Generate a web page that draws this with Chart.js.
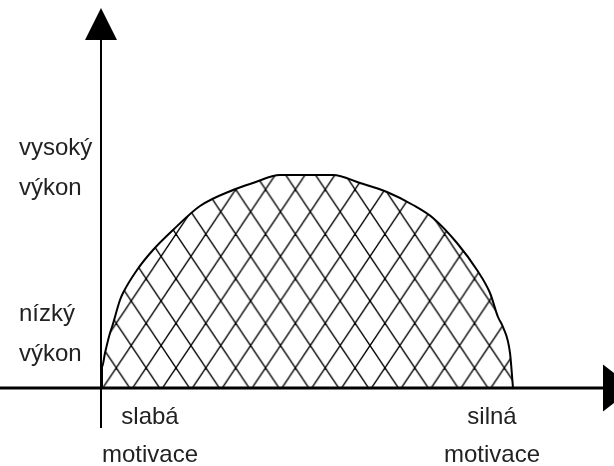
<!DOCTYPE html>
<html>
<head>
<meta charset="utf-8">
<script src="https://cdn.jsdelivr.net/npm/chart.js@4"></script>
<style>
  body { margin: 0; background: #fff; }
  #wrap { width: 614px; height: 466px; position: relative; }
</style>
</head>
<body>
<div id="wrap"><canvas id="motivationChart"></canvas></div>
<script>
// dome outline: motivation (x) vs performance (y)
const domeX = [1, 1, 4, 9, 11, 19, 22, 36, 52, 72, 99, 132, 152, 179, 232, 259, 286, 312, 332, 356, 376, 389, 397, 402, 409, 412];
const domeY = [0, 21, 35, 55, 61, 88, 95, 118, 138, 158, 182, 198, 205, 213, 213, 205, 196, 183, 170, 145, 118, 95, 71, 61, 35, 0];

// axis labels
const xTickValues = [49, 391];
const xTickLabels = [["slabá", "motivace"], ["silná", "motivace"]];
const yTickValues = [220, 54];
const yTickLabels = [["vysoký", "výkon"], ["nízký", "výkon"]];

const labelFont = "'Liberation Sans', Arial, sans-serif";

document.addEventListener("DOMContentLoaded", function () {
    const domePoints = domeX.map((x, i) => ({ x: x, y: domeY[i] }));

    // crosshatch fill (diamond lattice)
    function makeHatch(ctx) {
        const tile = document.createElement("canvas");
        tile.width = 30;
        tile.height = 45;
        const t = tile.getContext("2d");
        t.strokeStyle = "#000";
        t.lineWidth = 1.4;
        for (let k = -1; k <= 1; k++) {
            t.beginPath();
            t.moveTo(30 * k, 0);
            t.lineTo(30 * k + 30, 45);
            t.stroke();
        }
        for (let k = 0; k <= 2; k++) {
            t.beginPath();
            t.moveTo(30 * k, 0);
            t.lineTo(30 * k - 30, 45);
            t.stroke();
        }
        const pattern = ctx.createPattern(tile, "repeat");
        pattern.setTransform(new DOMMatrix().translate(26.7, 11).scale(29.85 / 30, 44.6 / 45));
        return pattern;
    }

    // no extra room for the tick labels at the ends of the axes
    function noLabelPadding(scale) {
        scale.paddingTop = 0;
        scale.paddingBottom = 0;
        scale.paddingLeft = 0;
        scale.paddingRight = 0;
    }

    // axis lines with arrowheads
    const arrowAxes = {
        id: "arrowAxes",
        afterDatasetsDraw(chart) {
            const ctx = chart.ctx;
            const x0 = chart.scales.x.getPixelForValue(0);
            const y0 = chart.scales.y.getPixelForValue(0);
            ctx.save();
            ctx.strokeStyle = "#000";
            ctx.fillStyle = "#000";

            // vertical axis
            ctx.lineWidth = 2;
            ctx.beginPath();
            ctx.moveTo(x0, 40);
            ctx.lineTo(x0, y0 + 40);
            ctx.stroke();
            ctx.beginPath();
            ctx.moveTo(x0, 8);
            ctx.lineTo(x0 + 16, 40);
            ctx.lineTo(x0 - 16, 40);
            ctx.closePath();
            ctx.fill();

            // horizontal axis
            ctx.lineWidth = 3;
            ctx.beginPath();
            ctx.moveTo(0, y0);
            ctx.lineTo(604, y0);
            ctx.stroke();
            ctx.beginPath();
            ctx.moveTo(633, y0);
            ctx.lineTo(603, y0 - 23.5);
            ctx.lineTo(603, y0 + 23.5);
            ctx.closePath();
            ctx.fill();
            ctx.restore();
        }
    };

    const canvas = document.getElementById("motivationChart");
    const ctx = canvas.getContext("2d");

    const data = {
        datasets: [{
            data: domePoints,
            borderColor: "#000",
            borderWidth: 2,
            backgroundColor: makeHatch(ctx),
            fill: "origin",
            pointRadius: 0,
            cubicInterpolationMode: "monotone"
        }]
    };

    const config = {
        type: "line",
        data: data,
        options: {
            responsive: true,
            maintainAspectRatio: false,
            animation: false,
            layout: { padding: { left: 19, right: 0, top: 0, bottom: 0 } },
            plugins: { legend: { display: false }, tooltip: { enabled: false } },
            scales: {
                x: {
                    type: "linear",
                    min: 0,
                    max: 513,
                    grid: { display: false, drawTicks: false },
                    border: { display: false },
                    afterBuildTicks: scale => {
                        scale.ticks = xTickValues.map(v => ({ value: v }));
                    },
                    afterFit: scale => {
                        scale.height = 78;
                        noLabelPadding(scale);
                    },
                    ticks: {
                        autoSkip: false,
                        maxRotation: 0,
                        padding: 10,
                        color: "#222",
                        font: { family: labelFont, size: 24, lineHeight: 38 / 24 },
                        callback: (value, i) => xTickLabels[i]
                    }
                },
                y: {
                    type: "linear",
                    min: 0,
                    max: 388,
                    grid: { display: false, drawTicks: false },
                    border: { display: false },
                    afterBuildTicks: scale => {
                        scale.ticks = yTickValues.map(v => ({ value: v }));
                    },
                    afterFit: scale => {
                        scale.width = 82;
                        noLabelPadding(scale);
                    },
                    ticks: {
                        autoSkip: false,
                        crossAlign: "far",
                        color: "#222",
                        font: { family: labelFont, size: 24, lineHeight: 40 / 24 },
                        callback: (value, i) => yTickLabels[i]
                    }
                }
            }
        },
        plugins: [arrowAxes]
    };

    new Chart(ctx, config);
});
</script>
</body>
</html>
